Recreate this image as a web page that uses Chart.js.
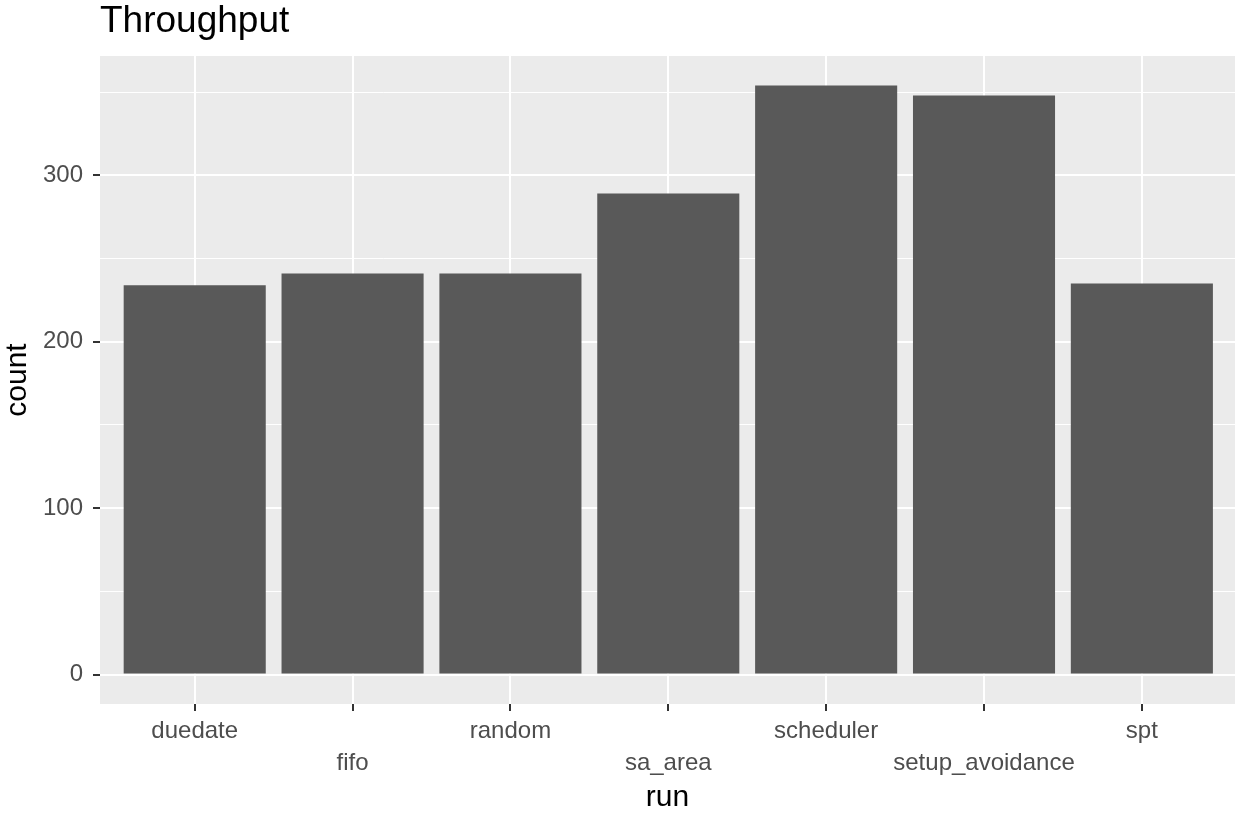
<!DOCTYPE html>
<html>
<head>
<meta charset="utf-8">
<script src="https://cdn.jsdelivr.net/npm/chart.js@4"></script>
<style>
  html, body { margin: 0; padding: 0; background: #ffffff; }
  canvas { display: block; }
</style>
</head>
<body>
<canvas id="c" width="1235" height="813"></canvas>
<script>
// ---- data ----
const categories = ['duedate', 'fifo', 'random', 'sa_area', 'scheduler', 'setup_avoidance', 'spt'];
const counts = [234, 241, 241, 289, 354, 348, 235];
const yTickValues = [0, 50, 100, 150, 200, 250, 300, 350];
const yLabelValues = [0, 100, 200, 300];
const titleText = 'Throughput';
const xTitle = 'run';
const yTitle = 'count';

// ---- styling ----
const FONT = "'Liberation Sans', Arial, sans-serif";
const PANEL = '#EBEBEB';
const BAR = '#595959';
const TICKTXT = '#4D4D4D';
const TICKMARK = '#333333';

// ggplot-like expansion
const yMax = Math.max(...counts);
const yPad = yMax * 0.05;

const panelBg = {
  id: 'panelBg',
  beforeDraw(chart) {
    const { ctx, chartArea: a } = chart;
    ctx.save();
    ctx.fillStyle = PANEL;
    ctx.fillRect(a.left, a.top, a.right - a.left, a.bottom - a.top);
    ctx.restore();
  },
  afterLayout(chart) {
    if (chart.titleBlock) chart.titleBlock.left = chart.chartArea.left;
  }
};

new Chart(document.getElementById('c'), {
  type: 'bar',
  data: {
    datasets: [{
      data: categories.map((c, i) => ({ x: i + 1, y: counts[i] })),
      backgroundColor: BAR,
      borderWidth: 0,
      inflateAmount: 0,
      barPercentage: 0.9,
      categoryPercentage: 1.0
    }]
  },
  options: {
    responsive: false,
    devicePixelRatio: 1,
    animation: false,
    layout: { padding: 0 },
    plugins: {
      legend: { display: false },
      tooltip: { enabled: false },
      title: {
        display: true,
        text: titleText,
        align: 'start',
        color: '#000000',
        font: { family: FONT, size: 37, weight: 'normal', lineHeight: 1.2 },
        padding: { top: 0, bottom: 11.6 }
      }
    },
    scales: {
      x: {
        type: 'linear',
        offset: false,
        min: 0.4,
        max: 7.59,
        afterBuildTicks(scale) {
          scale.ticks = categories.map((c, i) => ({ value: i + 1 }));
        },
        afterFit(scale) { scale.height = 109; },
        ticks: {
          autoSkip: false,
          maxRotation: 0,
          minRotation: 0,
          padding: 5,
          color: TICKTXT,
          font: { family: FONT, size: 24, lineHeight: '31.5px' },
          callback(value, index) {
            const lab = categories[Math.round(value) - 1];
            return index % 2 === 0 ? lab : ['', lab];
          }
        },
        grid: {
          offset: false,
          color: '#FFFFFF',
          lineWidth: 2,
          drawTicks: true,
          tickLength: 7,
          tickColor: TICKMARK,
          tickWidth: 2
        },
        border: { display: false },
        title: {
          display: true,
          text: xTitle,
          color: '#000000',
          font: { family: FONT, size: 30, lineHeight: 1 },
          padding: { top: 0, bottom: 0 }
        }
      },
      y: {
        type: 'linear',
        min: -yPad,
        max: yMax + yPad,
        afterBuildTicks(scale) {
          scale.ticks = yTickValues.map(v => ({ value: v }));
        },
        afterFit(scale) { scale.width = 100; },
        ticks: {
          padding: 10,
          color: TICKTXT,
          font: { family: FONT, size: 24 },
          callback(value) {
            return yLabelValues.includes(value) ? String(value) : '';
          }
        },
        grid: {
          color: '#FFFFFF',
          lineWidth: (ctx) => (ctx.tick && yLabelValues.includes(ctx.tick.value) ? 2 : 1),
          drawTicks: true,
          tickLength: 7,
          tickColor: (ctx) => (ctx.tick && yLabelValues.includes(ctx.tick.value) ? TICKMARK : 'rgba(0,0,0,0)'),
          tickWidth: 2
        },
        border: { display: false },
        title: {
          display: true,
          text: yTitle,
          color: '#000000',
          font: { family: FONT, size: 30, lineHeight: 1 },
          padding: { top: 3, bottom: 0 }
        }
      }
    }
  },
  plugins: [panelBg]
});
</script>
</body>
</html>
